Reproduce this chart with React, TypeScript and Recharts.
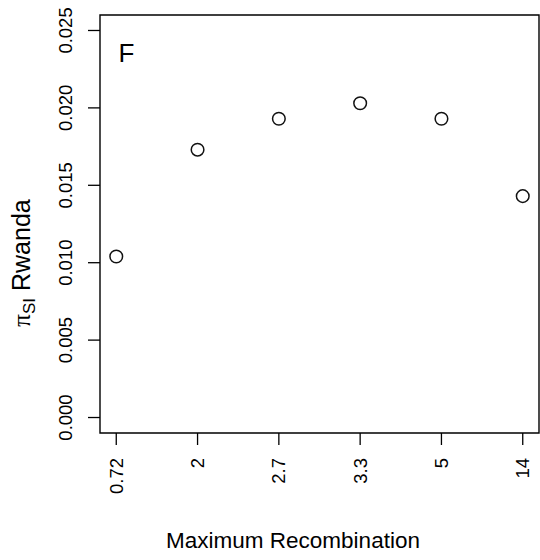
import React from 'react';
import { ScatterChart, Scatter, XAxis, YAxis, ReferenceArea, Customized } from 'recharts';

const categories = ['0.72', '2', '2.7', '3.3', '5', '14'];
const piSI = [0.0104, 0.0173, 0.0193, 0.0203, 0.0193, 0.0143];
const yTicks = [0, 0.005, 0.01, 0.015, 0.02, 0.025];
const yTickLabels = ['0.000', '0.005', '0.010', '0.015', '0.020', '0.025'];
const xTitle = 'Maximum Recombination';
const panelLabel = 'F';

const data = categories.map((c, i) => ({ x: i + 1, y: piSI[i], label: c }));
const xTickValues = categories.map((_, i) => i + 1);

const FONT = '"Liberation Sans", Arial, Helvetica, sans-serif';

const XTick = (props: any) => {
  const { x, payload } = props;
  const lbl = categories[payload.value - 1];
  return (
    <text
      transform={`translate(${x},458) rotate(-90)`}
      textAnchor="end"
      dy="0.35em"
      fontSize={18.5}
      fontFamily={FONT}
      fill="#000"
    >
      {lbl}
    </text>
  );
};

const YTick = (props: any) => {
  const { y, payload } = props;
  const idx = yTicks.indexOf(payload.value);
  const lbl = idx >= 0 ? yTickLabels[idx] : String(payload.value);
  return (
    <text
      transform={`translate(72,${y}) rotate(-90)`}
      textAnchor="middle"
      fontSize={18.5}
      fontFamily={FONT}
      fill="#000"
    >
      {lbl}
    </text>
  );
};

const Dot = (props: any) => {
  const { cx, cy } = props;
  return <circle cx={cx} cy={cy} r={6.3} fill="none" stroke="#111" strokeWidth={1.5} />;
};

const Extras = () => (
  <g>
    <text x={293} y={548} textAnchor="middle" fontSize={22.5} fontFamily={FONT} fill="#000">
      {xTitle}
    </text>
    <text
      transform="translate(30,263) rotate(-90)"
      textAnchor="middle"
      fontSize={25}
      fontFamily={FONT}
      fill="#000"
    >
      <tspan fontFamily='"Liberation Serif", serif'>π</tspan>
      <tspan fontSize={17} dy={5}>SI</tspan>
      <tspan dy={-5}> Rwanda</tspan>
    </text>
    <text x={118.5} y={62} fontSize={26} fontFamily={FONT} fill="#000">
      {panelLabel}
    </text>
  </g>
);

export default function App() {
  return (
    <div style={{ position: 'absolute', left: 0, top: 0, background: '#fff' }}>
      <ScatterChart width={540} height={560} margin={{ top: 15, right: 1, left: 0, bottom: 0 }}>
        <XAxis
          type="number"
          dataKey="x"
          domain={[0.8, 6.2]}
          ticks={xTickValues}
          allowDataOverflow
          axisLine={false}
          tickLine={{ stroke: '#000', strokeWidth: 1.3 }}
          tickSize={12}
          height={127}
          tick={<XTick />}
          interval={0}
        />
        <YAxis
          type="number"
          dataKey="y"
          domain={[-0.001, 0.026]}
          ticks={yTicks}
          allowDataOverflow
          axisLine={false}
          tickLine={{ stroke: '#000', strokeWidth: 1.3 }}
          tickSize={12}
          width={100}
          tick={<YTick />}
          interval={0}
        />
        <ReferenceArea
          x1={0.8}
          x2={6.2}
          y1={-0.001}
          y2={0.026}
          fill="none"
          fillOpacity={0}
          stroke="#000"
          strokeWidth={1.4}
          strokeOpacity={1}
        />
        <Scatter data={data} shape={<Dot />} isAnimationActive={false} />
        <Customized component={Extras} />
      </ScatterChart>
    </div>
  );
}
